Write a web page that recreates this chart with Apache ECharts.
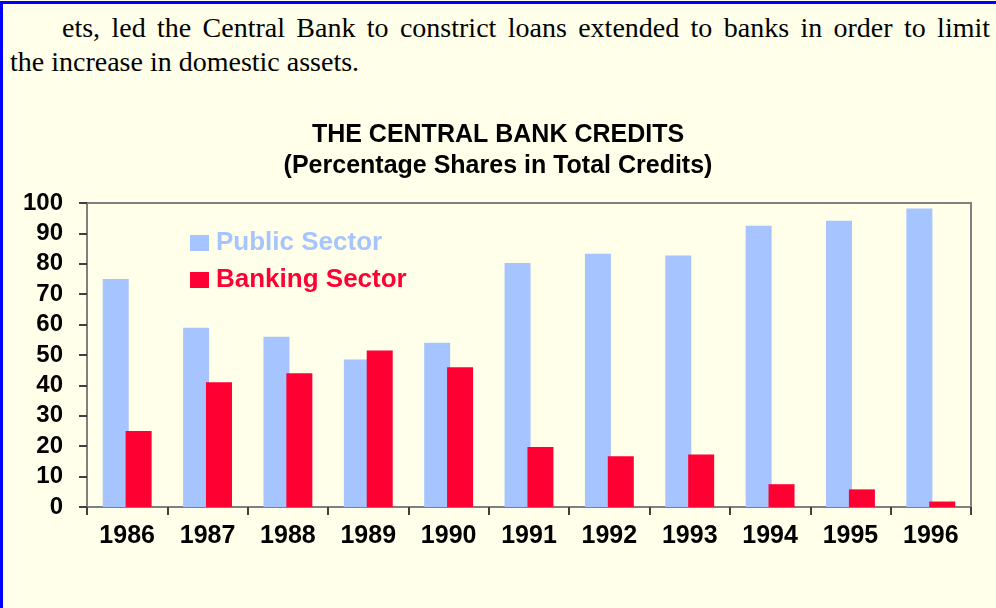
<!DOCTYPE html>
<html>
<head>
<meta charset="utf-8">
<script src="https://cdn.jsdelivr.net/npm/echarts@6/dist/echarts.min.js"></script>
<style>
  html, body { margin: 0; padding: 0; }
  body {
    width: 996px; height: 608px; overflow: hidden;
    background: #FFFFEA; position: relative;
  }
  #frame {
    position: absolute; left: 0; top: 1px; width: 996px; height: 607px;
    border-top: 3px solid #0000FF; border-left: 3px solid #0000FF;
    box-sizing: border-box;
  }
  .line {
    position: absolute; margin: 0; white-space: nowrap;
    font-family: "Liberation Serif", "Times New Roman", serif;
    font-size: 28px; line-height: 34px; color: #000;
  }
  #line1 {
    left: 62px; top: 11px; width: 928px;
    text-align: justify; text-align-last: justify; white-space: normal;
  }
  #line2 { left: 10px; top: 45px; }
  #chart { position: absolute; left: 0; top: 0; width: 996px; height: 608px; }
</style>
</head>
<body>
<div id="frame"></div>
<p class="line" id="line1">ets, led the Central Bank to constrict loans extended to banks in order to limit</p>
<p class="line" id="line2">the increase in domestic assets.</p>
<div id="chart"></div>
<script>
// Central Bank credits, percentage shares by sector
const years = ['1986', '1987', '1988', '1989', '1990', '1991', '1992', '1993', '1994', '1995', '1996'];
const publicSector = [75, 59, 56, 48.5, 54, 80.3, 83.3, 82.7, 92.5, 94.2, 98.2];
const bankingSector = [25, 41, 44, 51.5, 46, 19.7, 16.7, 17.3, 7.5, 5.8, 1.8];
const seriesNames = ['Public Sector', 'Banking Sector'];
const seriesColors = ['#A6C4FF', '#FF0033'];

const font = '"Liberation Sans", Arial, sans-serif';
const chart = echarts.init(document.getElementById('chart'), null, { renderer: 'canvas' });

chart.setOption({
  backgroundColor: 'transparent',
  animation: false,
  textStyle: { fontFamily: font },
  graphic: [
    {
      // two-line chart heading, each line centred on the page
      type: 'text', x: 498, y: 120,
      style: {
        text: 'THE CENTRAL BANK CREDITS\n(Percentage Shares in Total Credits)',
        font: 'bold 25px ' + font, fill: '#000',
        align: 'center', verticalAlign: 'top', lineHeight: 31
      }
    }
  ],
  legend: {
    orient: 'vertical', left: 190, top: 230, padding: 0,
    itemWidth: 19, itemHeight: 16, itemGap: 11, icon: 'rect',
    data: seriesNames.map((n, i) => ({
      name: n,
      textStyle: { color: seriesColors[i], fontSize: 26, fontWeight: 'bold', fontFamily: font, padding: [0, 0, 0, 2] }
    }))
  },
  grid: {
    left: 87, top: 203, right: 25, bottom: 101,
    show: true, borderColor: '#808080', borderWidth: 2, backgroundColor: 'transparent'
  },
  xAxis: {
    type: 'category', data: years,
    axisLine: { lineStyle: { color: '#808080', width: 2 } },
    axisTick: { show: true, length: 8, lineStyle: { color: '#404040', width: 2 } },
    axisLabel: { color: '#000', fontSize: 25, fontWeight: 'bold', fontFamily: font, margin: 17 },
    splitLine: { show: false }
  },
  yAxis: {
    type: 'value', min: 0, max: 100, interval: 10,
    axisLine: { show: true, lineStyle: { color: '#808080', width: 2 } },
    axisTick: { show: true, length: 8, lineStyle: { color: '#404040', width: 2 } },
    axisLabel: { color: '#000', fontSize: 24, fontWeight: 'bold', fontFamily: font, margin: 24 },
    splitLine: { show: false }
  },
  series: [
    {
      name: seriesNames[0], type: 'bar', data: publicSector,
      barWidth: 26, barGap: '-12%',
      itemStyle: { color: seriesColors[0] }
    },
    {
      name: seriesNames[1], type: 'bar', data: bankingSector,
      barWidth: 26, barGap: '-12%',
      itemStyle: { color: seriesColors[1] }
    }
  ]
});
</script>
</body>
</html>
